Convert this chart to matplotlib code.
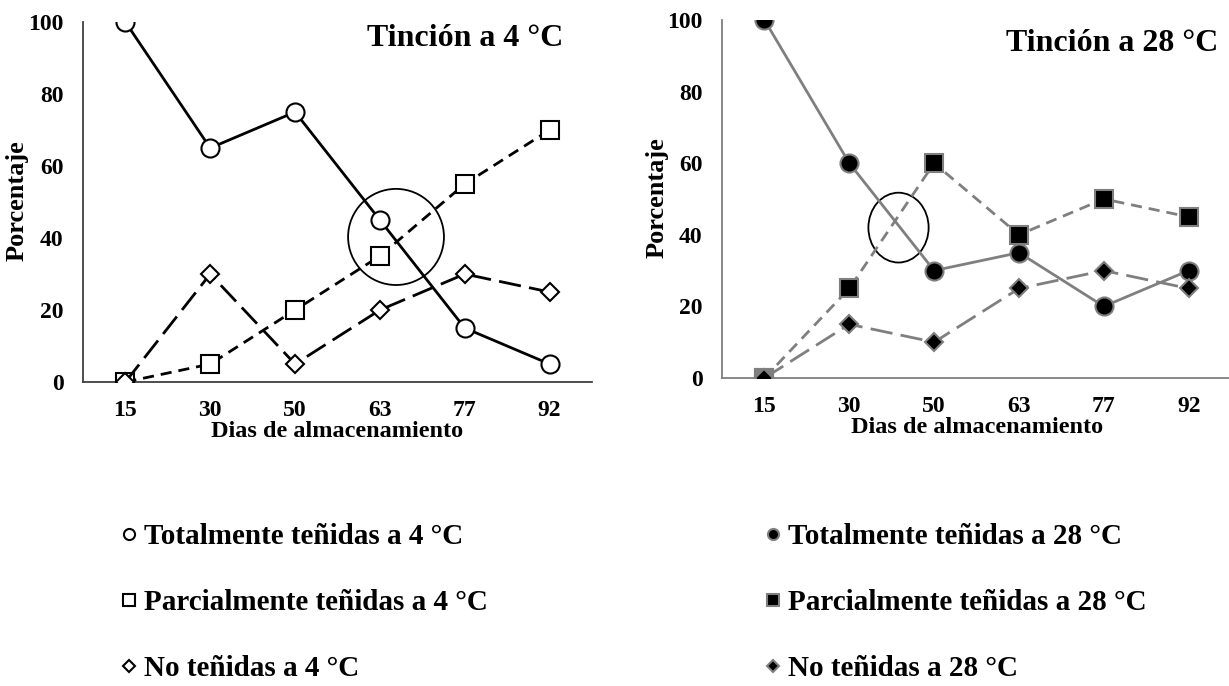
import matplotlib.pyplot as plt
from matplotlib.lines import Line2D
from matplotlib.patches import Ellipse

plt.rcParams['font.family'] = ['Liberation Serif', 'DejaVu Serif']
plt.rcParams['font.weight'] = 'bold'

dias = ['15', '30', '50', '63', '77', '92']

total_4 = [100, 65, 75, 45, 15, 5]
parcial_4 = [0, 5, 20, 35, 55, 70]
no_4 = [0, 30, 5, 20, 30, 25]

total_28 = [100, 60, 30, 35, 20, 30]
parcial_28 = [0, 25, 60, 40, 50, 45]
no_28 = [0, 15, 10, 25, 30, 25]

GRAY = '#7f7f7f'
SHORT = (4, 2.5)
LONG = (8, 3)

fig = plt.figure(figsize=(12.29, 6.86), dpi=100)
ax1 = fig.add_axes([0.0675, 0.4431, 0.4142, 0.5248])
ax2 = fig.add_axes([0.5875, 0.449, 0.4142, 0.5219])

x = list(range(len(dias)))

# 4 °C
ax1.plot(x, total_4, color='black', lw=2, marker='o', ms=13,
         mfc='white', mec='black', mew=1.5, zorder=3)
ax1.plot(x, parcial_4, color='black', lw=2, dashes=SHORT, marker='s', ms=13,
         mfc='white', mec='black', mew=1.5, zorder=3)
ax1.plot(x, no_4, color='black', lw=2, dashes=LONG, marker='D', ms=9,
         mfc='white', mec='black', mew=1.5, zorder=3)
ax1.add_patch(Ellipse((3.19, 40.3), 1.13, 26.7, fill=False, ec='black', lw=1.3))
ax1.text(0.943, 0.955, 'Tinción a 4 °C', transform=ax1.transAxes,
         ha='right', va='center', fontsize=23, fontweight='bold')

# 28 °C
ax2.plot(x, total_28, color=GRAY, lw=2, marker='o', ms=13,
         mfc='black', mec=GRAY, mew=1.5, zorder=3)
ax2.plot(x, parcial_28, color=GRAY, lw=2, dashes=SHORT, marker='s', ms=13,
         mfc='black', mec=GRAY, mew=1.5, zorder=3)
ax2.plot(x[:1], parcial_28[:1], ls='none', marker='s', ms=13,
         mfc=GRAY, mec=GRAY, mew=1.5, zorder=3)
ax2.plot(x, no_28, color=GRAY, lw=2, dashes=LONG, marker='D', ms=9,
         mfc='black', mec=GRAY, mew=1.5, zorder=4)
ax2.add_patch(Ellipse((1.58, 42), 0.71, 19.5, fill=False, ec='black', lw=1.3))
ax2.text(0.974, 0.935, 'Tinción a 28 °C', transform=ax2.transAxes,
         ha='right', va='center', fontsize=23, fontweight='bold')

for ax, spc in ((ax1, '#404040'), (ax2, GRAY)):
    ax.set_xlim(-0.5, 5.5)
    ax.set_ylim(0, 100)
    ax.set_xticks(x)
    ax.set_xticklabels(dias)
    ax.set_yticks([0, 20, 40, 60, 80, 100])
    ax.tick_params(length=0, labelsize=17)
    ax.tick_params(axis='x', pad=13)
    ax.tick_params(axis='y', pad=14)
    for s in ('top', 'right'):
        ax.spines[s].set_visible(False)
    for s in ('left', 'bottom'):
        ax.spines[s].set_color(spc)
        ax.spines[s].set_linewidth(1.3)
    ax.set_xlabel('Dias de almacenamiento', fontsize=17.5, fontweight='bold')
    ax.set_ylabel('Porcentaje', fontsize=19, fontweight='bold')
    ax.xaxis.set_label_coords(0.5, -0.108)
    ax.yaxis.set_label_coords(-0.106, 0.503)
    ax.patch.set_alpha(0)

h4 = [Line2D([], [], ls='none', marker='o', ms=8, mfc='white', mec='black', mew=1.5),
      Line2D([], [], ls='none', marker='s', ms=8.5, mfc='white', mec='black', mew=1.5),
      Line2D([], [], ls='none', marker='D', ms=6.5, mfc='white', mec='black', mew=1.5)]
l4 = ['Totalmente teñidas a 4 °C', 'Parcialmente teñidas a 4 °C', 'No teñidas a 4 °C']
h28 = [Line2D([], [], ls='none', marker='o', ms=8, mfc='black', mec=GRAY, mew=1.5),
       Line2D([], [], ls='none', marker='s', ms=8.5, mfc='black', mec=GRAY, mew=1.5),
       Line2D([], [], ls='none', marker='D', ms=6.5, mfc='black', mec=GRAY, mew=1.5)]
l28 = ['Totalmente teñidas a 28 °C', 'Parcialmente teñidas a 28 °C', 'No teñidas a 28 °C']

for h, l, xa in ((h4, l4, 0.099), (h28, l28, 0.623)):
    fig.legend(h, l, loc='upper left', bbox_to_anchor=(xa, 0.238), frameon=False,
               prop={'size': 21, 'weight': 'bold'}, handlelength=0.5,
               handletextpad=0.25, labelspacing=1.35, borderpad=0, borderaxespad=0)

fig.savefig('out.png', dpi=100)
